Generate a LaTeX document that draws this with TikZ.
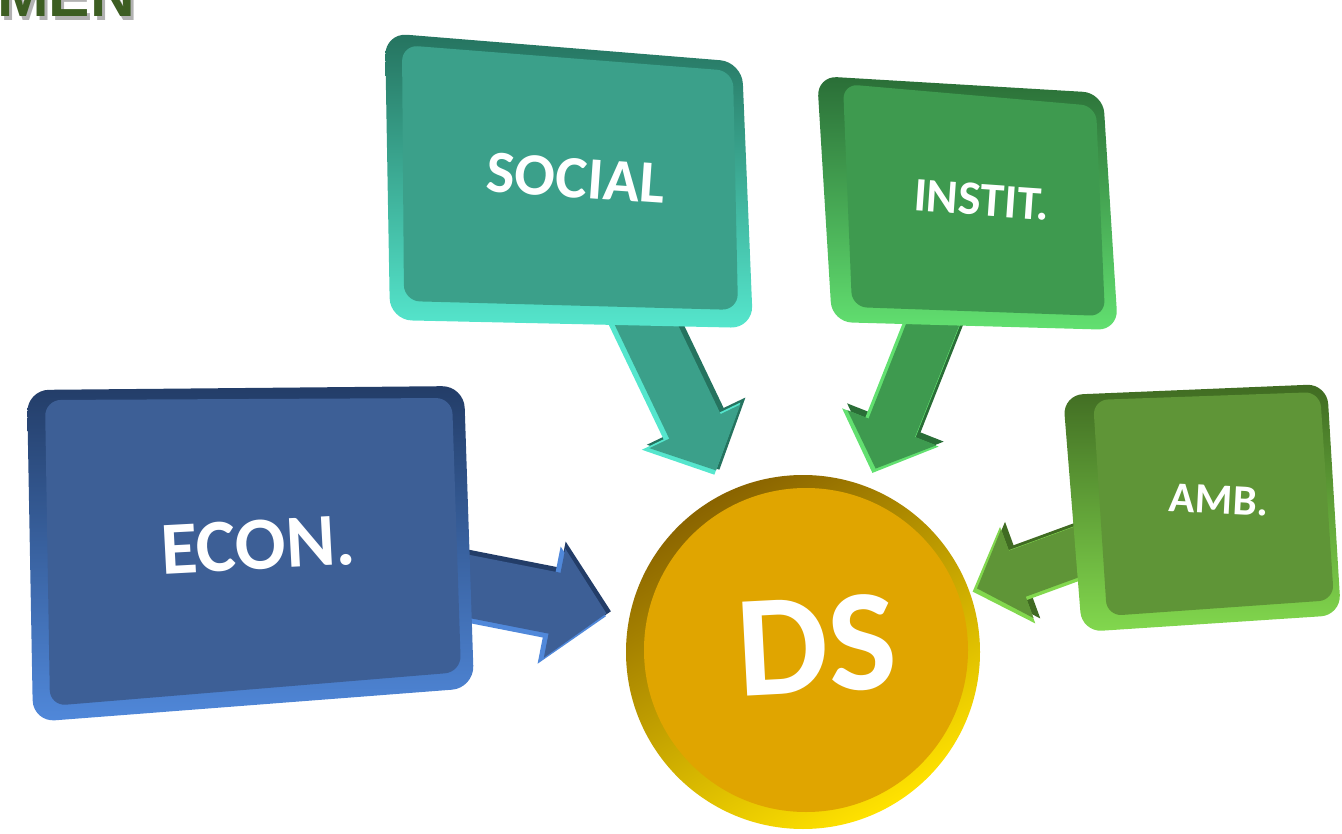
\documentclass[tikz,border=0pt]{standalone}
\usepackage{fontspec}
\setmainfont{Carlito}
\newfontfamily\arialfont{Liberation Sans}
\usetikzlibrary{arrows.meta,backgrounds}
\definecolor{socface}{HTML}{3BA08A}
\definecolor{socdark}{HTML}{25735F}
\definecolor{soclight}{HTML}{55E6CD}
\definecolor{insface}{HTML}{3E9A4F}
\definecolor{insdark}{HTML}{2A6E37}
\definecolor{inslight}{HTML}{62E070}
\definecolor{ambface}{HTML}{5F9537}
\definecolor{ambdark}{HTML}{406B22}
\definecolor{amblight}{HTML}{82D84E}
\definecolor{ecoface}{HTML}{3D5F96}
\definecolor{ecodark}{HTML}{233D68}
\definecolor{ecolight}{HTML}{5088DA}
\definecolor{dsface}{HTML}{E0A500}
\definecolor{dsdark}{HTML}{8A6400}
\definecolor{dslight}{HTML}{FFE200}
\definecolor{mengreen}{HTML}{3D5E22}
\tikzset{
  lbl/.style={text=white, inner sep=2pt, font=\bfseries},
  bevel/.style={shading angle=-25},
  darklayer/.style={transform canvas={xshift=2.5pt,yshift=2.5pt}},
  lightlayer/.style={transform canvas={xshift=-2.5pt,yshift=-2.5pt}},
}
\begin{document}
\begin{tikzpicture}[x=1pt,y=-1pt]
\useasboundingbox (0,0) rectangle (1342,834);
\clip (0,0) rectangle (1342,834);

% title fragment
\node[anchor=base east, inner sep=0, text=black!30, font=\arialfont\bfseries\fontsize{62}{62}\selectfont] (menshadow) at (138,21) {MEN};
\node[anchor=base east, inner sep=0, text=mengreen, font=\arialfont\bfseries\fontsize{62}{62}\selectfont] (men) at (135,17) {MEN};

% DS disc
\node[circle, minimum size=354pt, inner sep=0, shade, top color=dsdark, bottom color=dslight, shading angle=30] (ds) at (803,652) {};
\node[circle, minimum size=324pt, inner sep=0, fill=dsface] (dsdisc) at (806,650) {};
\node[lbl, rotate=3, font=\bfseries\fontsize{145}{145}\selectfont] (dslabel) at (817,645) {DS};

% ECON box
\shade[bevel, rounded corners=22pt, top color=ecodark, bottom color=ecolight] (27,390) -- (464,386) -- (474,688) -- (33,722) -- cycle;
\fill[ecoface, rounded corners=16pt] (45,400) -- (452,398) -- (461,672) -- (50,706) -- cycle;
\node[lbl, rotate=3, font=\bfseries\fontsize{75}{75}\selectfont] (econ) at (258,545) {ECON.};

% SOCIAL box
\shade[bevel, rounded corners=22pt, top color=socdark, bottom color=soclight] (385,33) -- (742,62) -- (753,328) -- (390,320) -- cycle;
\fill[socface, rounded corners=16pt] (402,45) -- (733,71) -- (738,310) -- (404,301) -- cycle;
\node[lbl, rotate=-4, font=\bfseries\fontsize{60}{60}\selectfont] (social) at (576,178) {SOCIAL};

% INSTIT box
\shade[bevel, rounded corners=20pt, top color=insdark, bottom color=inslight] (817,76) -- (1103,93) -- (1118,330) -- (832,322) -- cycle;
\fill[insface, rounded corners=15pt] (843,84) -- (1096,106) -- (1105,316) -- (852,307) -- cycle;
\node[lbl, rotate=-4, font=\bfseries\fontsize{48}{48}\selectfont] (instit) at (982,200) {INSTIT.};

% AMB box
\shade[bevel, rounded corners=20pt, top color=ambdark, bottom color=amblight] (1063,395) -- (1327,384) -- (1341,615) -- (1082,632) -- cycle;
\fill[ambface, rounded corners=15pt] (1093,400) -- (1320,392) -- (1334,600) -- (1107,616) -- cycle;
\node[lbl, rotate=-3, font=\bfseries\fontsize{43}{43}\selectfont] (amb) at (1219,500) {AMB.};

% block arrows
\begin{scope}[on background layer]
  % SOCIAL
  \draw[socdark, darklayer, line width=61pt, -{Triangle[width=106pt,length=54pt]}, shorten >=22pt] (social) -- (ds);
  \draw[soclight, lightlayer, line width=61pt, -{Triangle[width=106pt,length=54pt]}, shorten >=22pt] (social) -- (ds);
  \draw[socface, line width=57pt, -{Triangle[width=98pt,length=49pt]}, shorten >=24pt] (social) -- (ds);
  % INSTIT
  \draw[insdark, darklayer, line width=54pt, -{Triangle[width=101pt,length=49pt]}, shorten >=18pt] (instit) -- (ds);
  \draw[inslight, lightlayer, line width=54pt, -{Triangle[width=101pt,length=49pt]}, shorten >=18pt] (instit) -- (ds);
  \draw[insface, line width=50pt, -{Triangle[width=93pt,length=44pt]}, shorten >=20pt] (instit) -- (ds);
  % AMB
  \draw[ambdark, darklayer, line width=53pt, -{Triangle[width=100pt,length=48pt]}, shorten >=6pt] (amb) -- (ds);
  \draw[amblight, lightlayer, line width=53pt, -{Triangle[width=100pt,length=48pt]}, shorten >=6pt] (amb) -- (ds);
  \draw[ambface, line width=49pt, -{Triangle[width=92pt,length=43pt]}, shorten >=8pt] (amb) -- (ds);
  % ECON
  \draw[ecodark, darklayer, line width=66pt, -{Triangle[width=116pt,length=58pt]}, shorten >=21pt] (econ) -- (ds);
  \draw[ecolight, lightlayer, line width=66pt, -{Triangle[width=116pt,length=58pt]}, shorten >=21pt] (econ) -- (ds);
  \draw[ecoface, line width=62pt, -{Triangle[width=108pt,length=53pt]}, shorten >=23pt] (econ) -- (ds);
\end{scope}
\end{tikzpicture}
\end{document}
